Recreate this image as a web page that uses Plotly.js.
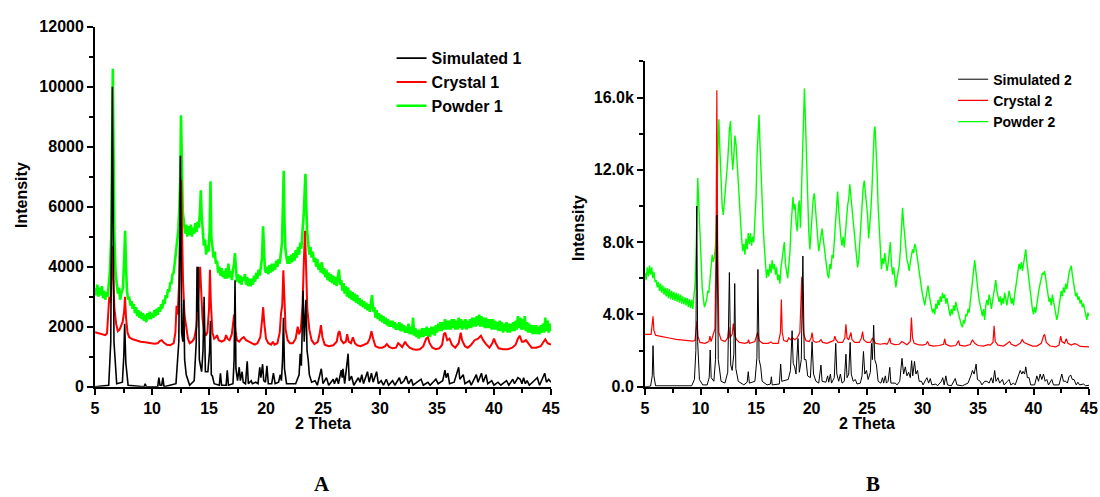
<!DOCTYPE html>
<html><head><meta charset="utf-8">
<script src="https://cdn.plot.ly/plotly-3.0.1.min.js"></script>
<style>html,body{margin:0;padding:0;background:#fff}</style>
</head><body><div id="chart" style="width:1100px;height:497px"></div>
<script>
// ---- Panel A data: [2theta, intensity] pairs ----
const simulated1 = [[5.0,0],[6.2,50],[6.38,1500],[6.52,10000],[6.66,1500],[6.9,100],[7.4,150],[7.52,1000],[7.6,2100],[7.7,800],[7.9,50],[9.3,0],[9.4,100],[9.5,0],[10.5,0],[10.6,300],[10.7,50],[10.85,50],[10.95,300],[11.05,0],[12.1,100],[12.35,1500],[12.49,7700],[12.6,1800],[12.7,1500],[12.78,2900],[12.86,900],[13.0,400],[13.3,50],[13.7,200],[13.88,1500],[13.95,4000],[14.0,2500],[14.05,4000],[14.15,900],[14.35,500],[14.47,1200],[14.57,3000],[14.68,500],[14.9,500],[15.05,1200],[15.12,2200],[15.2,400],[15.3,350],[15.45,100],[15.9,50],[16.0,450],[16.1,50],[16.5,50],[16.6,550],[16.7,50],[17.1,100],[17.2,900],[17.28,3550],[17.36,600],[17.5,200],[17.65,650],[17.75,200],[17.9,500],[18.0,150],[18.2,100],[18.35,850],[18.45,100],[18.7,200],[18.8,100],[19.1,150],[19.3,100],[19.45,650],[19.55,300],[19.7,750],[19.8,200],[19.95,150],[20.08,700],[20.2,100],[20.5,100],[20.65,450],[20.8,100],[21.1,150],[21.25,400],[21.35,200],[21.45,900],[21.53,2300],[21.62,600],[21.8,100],[22.6,100],[22.9,400],[23.0,1100],[23.1,700],[23.25,3200],[23.35,1500],[23.5,2900],[23.6,1200],[23.7,900],[23.8,400],[24.0,150],[24.3,200],[24.5,50],[24.85,600],[25.0,100],[25.3,300],[25.5,50],[25.9,250],[26.0,100],[26.2,300],[26.35,100],[26.6,550],[26.68,300],[26.75,600],[26.9,100],[27.2,1100],[27.3,200],[27.5,350],[27.7,50],[28.1,300],[28.25,150],[28.4,400],[28.55,100],[28.9,500],[29.05,150],[29.25,450],[29.4,150],[29.7,500],[29.85,100],[30.1,200],[30.3,50],[30.55,250],[30.75,50],[31.1,200],[31.3,50],[31.7,300],[31.85,100],[32.1,200],[32.3,350],[32.5,100],[32.75,250],[32.9,50],[33.6,250],[33.8,50],[34.2,150],[34.4,50],[34.9,250],[35.1,100],[35.5,200],[35.7,550],[35.8,300],[35.95,450],[36.1,100],[36.5,150],[36.9,650],[37.0,250],[37.3,400],[37.45,100],[37.85,200],[38.0,50],[38.45,400],[38.6,150],[38.9,450],[39.05,150],[39.3,400],[39.45,100],[39.8,200],[40.0,50],[40.35,150],[40.6,50],[41.1,200],[41.3,50],[41.65,250],[41.8,100],[42.1,300],[42.3,250],[42.45,100],[42.6,300],[42.75,100],[42.9,200],[43.1,50],[43.8,300],[44.0,50],[44.45,450],[44.6,150],[44.8,250],[45.0,150]];

const crystal1 = [[5.0,1820],[5.3,1780],[5.6,1760],[5.9,1720],[6.05,1780],[6.15,2400],[6.25,3000],[6.35,2800],[6.45,3800],[6.52,4700],[6.6,3600],[6.7,2600],[6.85,2100],[7.0,1850],[7.15,1900],[7.3,2050],[7.42,2150],[7.55,2500],[7.63,3000],[7.72,2300],[7.85,1800],[8.0,1650],[8.3,1580],[8.6,1550],[9.0,1500],[9.4,1480],[9.8,1450],[10.2,1430],[10.5,1450],[10.7,1530],[10.85,1550],[11.0,1480],[11.3,1400],[11.6,1380],[11.9,1450],[12.05,1800],[12.15,2700],[12.25,2400],[12.38,3500],[12.5,6000],[12.56,6900],[12.62,5500],[12.72,3500],[12.85,2400],[13.0,1900],[13.15,1600],[13.3,1450],[13.5,1500],[13.7,1600],[13.9,2000],[14.05,2900],[14.15,3900],[14.22,4000],[14.3,3300],[14.42,2300],[14.55,1900],[14.7,1700],[14.85,1800],[15.0,2600],[15.08,3900],[15.16,2800],[15.3,1800],[15.45,1600],[15.6,1650],[15.7,1720],[15.85,1550],[16.1,1500],[16.35,1550],[16.5,1720],[16.62,1600],[16.8,1550],[17.0,1750],[17.12,2200],[17.2,2400],[17.3,1900],[17.45,1550],[17.65,1500],[17.85,1600],[18.05,1650],[18.25,1550],[18.5,1500],[18.75,1450],[19.0,1400],[19.25,1450],[19.5,1650],[19.65,2200],[19.75,2650],[19.85,2100],[20.0,1600],[20.2,1450],[20.45,1400],[20.6,1500],[20.75,1400],[21.0,1450],[21.2,1800],[21.32,2450],[21.42,2700],[21.52,3880],[21.6,2900],[21.72,1900],[21.9,1550],[22.1,1450],[22.35,1450],[22.6,1600],[22.78,2000],[22.9,1750],[23.05,1900],[23.2,2700],[23.32,4200],[23.42,5200],[23.5,4200],[23.62,2600],[23.8,1900],[24.0,1550],[24.25,1420],[24.55,1500],[24.72,1800],[24.82,2050],[24.95,1650],[25.15,1400],[25.5,1350],[25.9,1380],[26.2,1500],[26.35,1800],[26.45,1850],[26.6,1550],[26.8,1450],[27.0,1500],[27.12,1750],[27.25,1500],[27.45,1450],[27.62,1650],[27.8,1450],[28.0,1380],[28.3,1350],[28.6,1400],[28.9,1450],[29.1,1600],[29.25,1850],[29.4,1600],[29.6,1350],[29.9,1300],[30.2,1300],[30.45,1350],[30.6,1420],[30.8,1330],[31.1,1280],[31.4,1300],[31.6,1450],[31.75,1400],[31.95,1320],[32.2,1500],[32.35,1400],[32.6,1300],[32.9,1250],[33.2,1230],[33.5,1250],[33.8,1350],[34.05,1600],[34.2,1650],[34.35,1450],[34.6,1300],[34.9,1250],[35.2,1280],[35.45,1400],[35.6,1750],[35.72,1800],[35.9,1550],[36.1,1600],[36.3,1400],[36.6,1300],[36.9,1450],[37.08,1800],[37.2,1550],[37.45,1350],[37.7,1300],[38.0,1400],[38.3,1550],[38.6,1600],[38.85,1700],[39.05,1550],[39.3,1420],[39.6,1300],[39.85,1450],[40.0,1600],[40.15,1450],[40.4,1280],[40.8,1250],[41.2,1250],[41.6,1300],[41.9,1400],[42.1,1600],[42.25,1700],[42.45,1500],[42.6,1500],[42.8,1550],[43.0,1450],[43.3,1300],[43.7,1300],[44.1,1350],[44.35,1500],[44.5,1580],[44.7,1450],[45.0,1400]];

const powder1 = [[5.0,3300],[5.1,3050],[5.2,3400],[5.3,3000],[5.4,3300],[5.5,3050],[5.6,3350],[5.7,2950],[5.8,3200],[5.9,2900],[6.0,3150],[6.1,3000],[6.2,3400],[6.3,3800],[6.42,5000],[6.5,9000],[6.56,10600],[6.62,8000],[6.7,5000],[6.8,3800],[6.9,3300],[7.0,3100],[7.1,3300],[7.2,2900],[7.3,3100],[7.45,3300],[7.55,4200],[7.64,5200],[7.72,4000],[7.8,3200],[7.9,2900],[8.0,3000],[8.1,2700],[8.2,2850],[8.3,2600],[8.4,2750],[8.5,2450],[8.6,2650],[8.7,2350],[8.8,2550],[8.9,2300],[9.0,2500],[9.1,2250],[9.2,2450],[9.3,2200],[9.4,2400],[9.5,2150],[9.6,2450],[9.7,2250],[9.8,2500],[9.9,2250],[10.0,2450],[10.1,2300],[10.2,2550],[10.3,2350],[10.4,2600],[10.5,2400],[10.6,2650],[10.7,2500],[10.8,2750],[10.9,2600],[11.0,2900],[11.1,2750],[11.2,3050],[11.3,2950],[11.4,3250],[11.5,3150],[11.6,3450],[11.7,3450],[11.8,3750],[11.9,3800],[12.0,4150],[12.1,4300],[12.2,4700],[12.3,5200],[12.4,6000],[12.48,7000],[12.54,9050],[12.6,7000],[12.7,5800],[12.8,5500],[12.9,5100],[13.0,5400],[13.1,5000],[13.2,5350],[13.3,5050],[13.4,5400],[13.5,5000],[13.6,5300],[13.7,5100],[13.8,5450],[13.9,5150],[14.0,5500],[14.1,5300],[14.2,5800],[14.28,6550],[14.36,5700],[14.45,5300],[14.55,4700],[14.65,4900],[14.75,4400],[14.85,4700],[14.95,4500],[15.05,5200],[15.13,6850],[15.2,5000],[15.3,4500],[15.4,4300],[15.5,4500],[15.6,4100],[15.7,4200],[15.8,3800],[15.9,4000],[16.0,3700],[16.1,3950],[16.2,3650],[16.3,3850],[16.4,3600],[16.5,3950],[16.6,3600],[16.7,4100],[16.8,3650],[16.9,3850],[17.0,3550],[17.1,3900],[17.2,4100],[17.27,4450],[17.35,3900],[17.45,3500],[17.55,3750],[17.65,3450],[17.75,3700],[17.85,3400],[17.95,3650],[18.05,3550],[18.15,3750],[18.25,3400],[18.35,3650],[18.45,3350],[18.55,3600],[18.65,3350],[18.75,3600],[18.85,3400],[18.95,3700],[19.05,3500],[19.15,3800],[19.25,3600],[19.35,3900],[19.45,3700],[19.55,4000],[19.65,4300],[19.74,5350],[19.82,4300],[19.9,3900],[20.0,3800],[20.1,4000],[20.2,3750],[20.3,4050],[20.4,3800],[20.5,4100],[20.6,3850],[20.7,4100],[20.8,3900],[20.9,4200],[21.0,4000],[21.1,4250],[21.2,4100],[21.3,4400],[21.4,4800],[21.48,6000],[21.55,7200],[21.62,5500],[21.7,4600],[21.8,4300],[21.9,4100],[22.0,4350],[22.1,4100],[22.2,4400],[22.3,4150],[22.4,4450],[22.5,4200],[22.6,4550],[22.7,4300],[22.8,4650],[22.9,4400],[23.0,4800],[23.1,4600],[23.2,5200],[23.3,5700],[23.4,6600],[23.46,7100],[23.52,6200],[23.6,5200],[23.7,4800],[23.8,4400],[23.9,4650],[24.0,4300],[24.1,4500],[24.2,4150],[24.3,4300],[24.4,4000],[24.5,4250],[24.6,3900],[24.7,4100],[24.8,3800],[24.9,4150],[25.0,3750],[25.1,3950],[25.2,3650],[25.3,3900],[25.4,3550],[25.5,3800],[25.6,3500],[25.7,3750],[25.8,3450],[25.9,3700],[26.0,3400],[26.1,3650],[26.2,3350],[26.3,3650],[26.4,3900],[26.5,3400],[26.6,3550],[26.7,3200],[26.8,3450],[26.9,3100],[27.0,3350],[27.1,3000],[27.2,3300],[27.3,2950],[27.4,3200],[27.5,2900],[27.6,3150],[27.7,2850],[27.8,3100],[27.9,2800],[28.0,3050],[28.1,2750],[28.2,2950],[28.3,2700],[28.4,2900],[28.5,2650],[28.6,2850],[28.7,2600],[28.8,2800],[28.9,2550],[29.0,2750],[29.1,2500],[29.2,2800],[29.3,3050],[29.4,2500],[29.5,2650],[29.6,2300],[29.7,2550],[29.8,2250],[29.9,2450],[30.0,2200],[30.1,2400],[30.2,2150],[30.3,2350],[30.4,2100],[30.5,2300],[30.6,2050],[30.7,2250],[30.8,2000],[30.9,2200],[31.0,2000],[31.1,2200],[31.2,1950],[31.3,2150],[31.4,1900],[31.5,2100],[31.6,1900],[31.7,2150],[31.8,1850],[31.9,2100],[32.0,1850],[32.1,2050],[32.2,1800],[32.3,2000],[32.4,1800],[32.5,2100],[32.6,1750],[32.7,2000],[32.8,1750],[32.9,2300],[33.0,1700],[33.1,1950],[33.2,1650],[33.3,1900],[33.4,1600],[33.5,1900],[33.6,1650],[33.7,1950],[33.8,1650],[33.9,1950],[34.0,1700],[34.1,2000],[34.2,1700],[34.3,1950],[34.4,1650],[34.5,2000],[34.6,1750],[34.7,2000],[34.8,1700],[34.9,2050],[35.0,1800],[35.1,2100],[35.2,1850],[35.3,2150],[35.4,1850],[35.5,2150],[35.6,1900],[35.7,2250],[35.8,1900],[35.9,2200],[36.0,1900],[36.1,2200],[36.2,1900],[36.3,2250],[36.4,1950],[36.5,2250],[36.6,1900],[36.7,2200],[36.8,1900],[36.9,2300],[37.0,1950],[37.1,2250],[37.2,1900],[37.3,2200],[37.4,1950],[37.5,2250],[37.6,1900],[37.7,2200],[37.8,1950],[37.9,2250],[38.0,1950],[38.1,2300],[38.2,2000],[38.3,2300],[38.4,2000],[38.5,2350],[38.6,2050],[38.7,2400],[38.8,2000],[38.9,2350],[39.0,2000],[39.1,2300],[39.2,1950],[39.3,2300],[39.4,1950],[39.5,2250],[39.6,1950],[39.7,2250],[39.8,1900],[39.9,2250],[40.0,1900],[40.1,2200],[40.2,1900],[40.3,2150],[40.4,1850],[40.5,2200],[40.6,1850],[40.7,2150],[40.8,1800],[40.9,2100],[41.0,1850],[41.1,2150],[41.2,1800],[41.3,2100],[41.4,1800],[41.5,2100],[41.6,1850],[41.7,2150],[41.8,1850],[41.9,2200],[42.0,1900],[42.1,2350],[42.2,1950],[42.3,2300],[42.4,1900],[42.5,2250],[42.6,1900],[42.7,2350],[42.8,1850],[42.9,2150],[43.0,1800],[43.1,2100],[43.2,1800],[43.3,2050],[43.4,1750],[43.5,2050],[43.6,1750],[43.7,2050],[43.8,1750],[43.9,2000],[44.0,1750],[44.1,2050],[44.2,1800],[44.3,2100],[44.4,1800],[44.5,2300],[44.6,1850],[44.7,2200],[44.8,1800],[44.9,2100],[45.0,1850]];

// ---- Panel B data ----
const simulated2 = [[5.0,0],[5.5,30],[5.65,600],[5.72,2270],[5.8,600],[5.95,50],[9.2,50],[9.45,400],[9.58,2000],[9.66,10000],[9.74,2500],[9.9,400],[10.2,100],[10.6,100],[10.78,500],[10.87,2030],[10.96,500],[11.2,300],[11.35,1500],[11.48,9500],[11.6,1500],[11.85,300],[12.2,200],[12.45,800],[12.6,6320],[12.72,1200],[12.85,900],[13.0,1800],[13.08,5710],[13.18,1000],[13.4,300],[13.9,100],[14.2,250],[14.3,830],[14.4,200],[14.9,300],[15.08,1600],[15.17,6490],[15.28,1500],[15.42,1100],[15.55,300],[16.0,100],[16.3,150],[16.38,550],[16.46,100],[17.1,150],[17.22,1250],[17.32,300],[17.9,400],[18.1,900],[18.25,3100],[18.35,1300],[18.48,1100],[18.6,700],[18.78,2670],[18.9,800],[19.08,1500],[19.22,7230],[19.35,1500],[19.5,1500],[19.65,600],[19.9,500],[20.05,2490],[20.18,700],[20.4,300],[20.65,200],[20.85,1200],[20.95,300],[21.3,250],[21.45,600],[21.55,250],[21.7,700],[21.8,200],[22.05,500],[22.18,2400],[22.28,700],[22.45,300],[22.6,700],[22.75,200],[22.95,300],[23.1,1800],[23.2,500],[23.35,700],[23.48,2450],[23.58,700],[23.75,300],[23.95,400],[24.1,150],[24.4,200],[24.55,600],[24.68,1950],[24.8,700],[24.95,900],[25.1,400],[25.3,800],[25.4,2400],[25.48,1500],[25.6,3400],[25.7,1500],[25.85,1200],[26.0,300],[26.25,200],[26.4,500],[26.5,200],[26.65,600],[26.75,200],[26.9,300],[27.05,1070],[27.15,200],[27.55,200],[27.7,100],[27.95,300],[28.15,1570],[28.3,700],[28.45,1100],[28.6,600],[28.75,800],[28.9,500],[29.02,1440],[29.12,600],[29.28,1400],[29.4,700],[29.55,900],[29.7,300],[29.9,300],[30.05,100],[30.3,400],[30.4,500],[30.55,200],[30.7,450],[30.85,100],[31.2,150],[31.35,50],[31.7,300],[31.82,500],[31.95,100],[32.1,600],[32.25,100],[32.6,50],[32.95,450],[33.1,100],[33.6,50],[33.75,100],[34.1,200],[34.35,600],[34.5,900],[34.65,700],[34.83,1250],[34.95,400],[35.2,300],[35.35,100],[35.6,300],[35.8,300],[36.0,200],[36.2,500],[36.35,200],[36.5,900],[36.62,300],[36.8,500],[36.95,200],[37.2,400],[37.35,100],[37.65,300],[37.8,400],[37.95,100],[38.2,200],[38.35,100],[38.6,500],[38.8,900],[38.95,700],[39.05,850],[39.2,700],[39.3,1100],[39.45,500],[39.6,500],[39.75,100],[40.1,100],[40.3,600],[40.45,300],[40.6,700],[40.75,400],[40.9,700],[41.05,300],[41.2,400],[41.35,100],[41.65,400],[41.8,100],[42.3,100],[42.55,700],[42.7,300],[42.9,300],[43.05,200],[43.2,550],[43.35,650],[43.5,400],[43.65,400],[43.85,100],[44.0,250],[44.15,100],[44.5,150],[44.7,50],[45.0,80]];

const crystal2 = [[5.0,2900],[5.3,2880],[5.55,2900],[5.65,3500],[5.72,3900],[5.8,3100],[5.95,2850],[6.3,2800],[6.8,2720],[7.3,2680],[7.8,2620],[8.3,2580],[8.8,2550],[9.3,2520],[9.5,2550],[9.6,3000],[9.68,3650],[9.76,2800],[9.95,2450],[10.4,2400],[10.75,2500],[10.85,2800],[10.95,2500],[11.15,2900],[11.3,3200],[11.4,8000],[11.47,16400],[11.54,8000],[11.65,3000],[11.85,2600],[12.2,2500],[12.45,2700],[12.55,3300],[12.65,2700],[12.85,2900],[12.95,3500],[13.1,2800],[13.25,2600],[13.5,2450],[14.0,2400],[14.25,2450],[14.32,2600],[14.42,2400],[14.9,2500],[15.05,2900],[15.15,3000],[15.3,2550],[15.6,2400],[16.1,2400],[16.35,2480],[16.5,2400],[17.0,2400],[17.2,3000],[17.28,4830],[17.36,3000],[17.5,2550],[17.8,2500],[17.95,2700],[18.1,2600],[18.3,2700],[18.5,2600],[18.7,2700],[18.95,3000],[19.05,5000],[19.12,6080],[19.2,4000],[19.3,2900],[19.5,2550],[19.8,2500],[19.97,2700],[20.05,3000],[20.15,2550],[20.4,2450],[20.7,2500],[20.85,2600],[21.0,2450],[21.4,2400],[21.6,2450],[21.8,2500],[22.0,2550],[22.1,2800],[22.2,2600],[22.4,2450],[22.8,2450],[23.0,2700],[23.1,3450],[23.2,2700],[23.35,2600],[23.55,3000],[23.65,2600],[23.9,2450],[24.3,2450],[24.5,2700],[24.6,3050],[24.7,2600],[25.0,2450],[25.3,2450],[25.5,2700],[25.6,2550],[25.8,2400],[26.2,2350],[26.6,2400],[26.8,2350],[26.95,2500],[27.05,2700],[27.15,2400],[27.5,2330],[27.9,2350],[28.15,2500],[28.3,2450],[28.6,2320],[28.9,2500],[29.0,3830],[29.1,2700],[29.25,2400],[29.6,2330],[30.0,2300],[30.3,2350],[30.45,2500],[30.6,2300],[31.0,2250],[31.5,2280],[31.9,2350],[32.0,2650],[32.1,2350],[32.5,2250],[33.0,2280],[33.25,2550],[33.35,2300],[33.8,2250],[34.3,2330],[34.5,2600],[34.7,2400],[35.0,2280],[35.5,2250],[35.9,2330],[36.1,2300],[36.35,2450],[36.45,3370],[36.55,2500],[36.8,2300],[37.3,2250],[37.7,2400],[37.85,2500],[38.0,2350],[38.4,2250],[38.8,2400],[38.98,2600],[39.15,2450],[39.5,2350],[39.9,2250],[40.3,2250],[40.7,2400],[40.9,2800],[41.0,2900],[41.15,2450],[41.5,2250],[42.0,2200],[42.3,2300],[42.45,2800],[42.55,2500],[42.8,2400],[42.95,2650],[43.1,2400],[43.4,2300],[43.7,2380],[43.9,2350],[44.2,2230],[44.6,2200],[45.0,2200]];

const powder2 = [[5.0,6300],[5.1,5900],[5.2,6600],[5.3,6100],[5.4,6700],[5.5,6200],[5.6,6600],[5.7,6000],[5.8,6350],[5.9,5800],[6.0,5900],[6.1,5500],[6.2,5800],[6.3,5300],[6.4,5700],[6.5,5200],[6.6,5600],[6.7,5100],[6.8,5500],[6.9,5000],[7.0,5450],[7.1,4900],[7.2,5400],[7.3,4850],[7.4,5300],[7.5,4800],[7.6,5250],[7.7,4750],[7.8,5200],[7.9,4700],[8.0,5150],[8.1,4650],[8.2,5100],[8.3,4600],[8.4,5000],[8.5,4550],[8.6,4950],[8.7,4500],[8.8,4900],[8.9,4400],[9.0,4850],[9.1,4350],[9.2,4800],[9.3,4300],[9.4,5000],[9.5,5600],[9.6,7500],[9.68,10000],[9.75,11550],[9.85,10000],[9.95,8200],[10.05,6500],[10.15,5500],[10.25,4900],[10.35,4400],[10.45,4600],[10.55,4800],[10.65,5300],[10.75,5200],[10.85,5900],[10.95,6500],[11.05,7300],[11.15,6900],[11.25,7200],[11.35,7800],[11.45,9500],[11.55,12500],[11.65,14800],[11.75,13000],[11.85,11000],[11.95,10000],[12.05,9500],[12.15,10200],[12.3,11000],[12.45,12500],[12.6,14200],[12.7,14700],[12.8,13000],[12.9,12000],[13.0,12800],[13.1,13900],[13.2,13400],[13.3,12200],[13.4,11000],[13.5,9800],[13.6,8800],[13.7,8200],[13.8,7500],[13.9,7900],[14.0,7300],[14.1,8200],[14.2,7600],[14.3,8500],[14.4,7900],[14.5,8500],[14.6,7800],[14.7,8300],[14.8,8000],[14.9,9000],[15.0,10500],[15.1,13000],[15.2,14600],[15.27,15050],[15.35,13500],[15.45,11500],[15.55,10000],[15.65,8800],[15.75,7700],[15.85,6800],[15.95,6000],[16.05,6500],[16.15,6100],[16.25,6800],[16.35,6300],[16.45,7000],[16.55,6500],[16.65,6800],[16.75,6200],[16.85,6600],[16.95,5900],[17.05,6200],[17.15,5700],[17.25,6600],[17.35,7200],[17.45,7700],[17.55,8000],[17.65,6800],[17.75,6300],[17.85,6000],[17.95,6700],[18.05,7400],[18.15,8800],[18.25,10200],[18.33,10500],[18.42,9800],[18.52,10100],[18.62,9000],[18.72,8600],[18.82,10000],[18.9,10300],[19.0,8800],[19.1,11000],[19.2,13500],[19.3,15500],[19.36,16500],[19.44,15000],[19.55,12500],[19.65,10500],[19.75,8600],[19.85,7600],[19.95,8500],[20.05,9800],[20.15,10400],[20.25,10700],[20.35,9800],[20.45,8800],[20.55,8000],[20.65,7500],[20.75,7900],[20.85,8300],[20.95,8750],[21.05,8200],[21.15,7600],[21.25,7200],[21.35,6800],[21.45,6200],[21.55,6000],[21.65,6800],[21.75,6500],[21.85,7300],[21.95,7100],[22.05,8000],[22.15,9300],[22.25,10400],[22.35,10800],[22.45,9800],[22.55,8700],[22.65,8200],[22.75,7800],[22.85,8300],[22.95,7700],[23.05,8600],[23.15,9200],[23.25,10000],[23.35,10400],[23.45,11200],[23.55,10500],[23.65,9800],[23.75,9300],[23.85,8600],[23.95,7800],[24.05,7200],[24.15,6600],[24.25,7000],[24.35,8000],[24.45,9300],[24.55,10300],[24.65,11000],[24.75,11400],[24.85,10800],[24.95,10200],[25.05,9500],[25.15,8200],[25.25,8800],[25.35,9800],[25.45,11000],[25.55,13000],[25.65,14200],[25.72,14400],[25.8,13500],[25.9,12000],[26.0,10000],[26.1,8500],[26.2,7200],[26.3,6500],[26.4,7100],[26.5,6800],[26.6,7400],[26.7,6900],[26.8,6400],[26.9,6800],[27.0,7300],[27.1,8000],[27.2,6800],[27.3,6200],[27.4,6600],[27.5,5800],[27.6,5500],[27.7,6000],[27.8,6300],[27.9,6700],[28.0,7500],[28.1,8500],[28.2,9900],[28.3,9000],[28.4,8200],[28.5,7500],[28.6,7000],[28.7,6800],[28.8,6400],[28.9,6900],[29.0,7200],[29.1,7600],[29.2,7400],[29.3,7900],[29.4,7700],[29.5,7200],[29.6,6700],[29.7,6300],[29.8,5800],[29.9,5500],[30.0,5100],[30.1,4800],[30.2,4500],[30.3,4900],[30.4,5400],[30.5,5600],[30.6,5100],[30.7,4700],[30.8,4300],[30.9,4100],[31.0,4300],[31.1,4000],[31.2,4600],[31.3,4300],[31.4,4800],[31.5,4500],[31.6,5000],[31.7,4700],[31.8,5200],[31.9,4900],[32.0,5100],[32.1,4600],[32.2,4900],[32.3,4400],[32.4,4200],[32.5,3900],[32.6,4300],[32.7,4000],[32.8,4500],[32.9,4200],[33.0,4700],[33.1,4400],[33.2,4100],[33.3,3800],[33.4,3600],[33.5,3400],[33.6,3300],[33.7,3700],[33.8,3500],[33.9,4000],[34.0,3900],[34.1,4300],[34.2,4100],[34.3,4600],[34.4,5200],[34.5,5800],[34.6,6400],[34.7,7000],[34.8,6300],[34.9,5700],[35.0,5300],[35.1,4800],[35.2,4500],[35.3,4200],[35.4,3900],[35.5,4300],[35.6,3700],[35.7,4500],[35.8,4800],[35.9,4500],[36.0,5100],[36.1,4800],[36.2,4300],[36.3,4700],[36.4,5200],[36.5,5700],[36.6,5900],[36.7,5300],[36.8,5000],[36.9,4700],[37.0,5000],[37.1,4500],[37.2,4900],[37.3,4600],[37.4,5200],[37.5,4800],[37.6,4500],[37.7,4900],[37.8,5300],[37.9,5000],[38.0,4600],[38.1,4900],[38.2,4500],[38.3,5100],[38.4,5500],[38.5,5900],[38.6,6300],[38.7,6800],[38.8,6500],[38.9,6900],[39.0,6400],[39.1,6800],[39.2,7400],[39.3,7600],[39.4,6900],[39.5,6300],[39.6,5800],[39.7,5300],[39.8,4800],[39.9,4300],[40.0,4000],[40.1,4400],[40.2,4100],[40.3,4700],[40.4,5000],[40.5,5400],[40.6,5700],[40.7,6000],[40.8,6300],[40.9,6200],[41.0,6400],[41.1,6000],[41.2,5600],[41.3,5100],[41.4,4700],[41.5,4900],[41.6,4500],[41.7,5100],[41.8,4700],[41.9,4300],[42.0,4000],[42.1,3700],[42.2,4000],[42.3,4400],[42.4,4900],[42.5,5300],[42.6,5000],[42.7,5500],[42.8,5200],[42.9,5700],[43.0,5400],[43.1,6000],[43.2,6300],[43.3,6500],[43.4,6700],[43.5,6200],[43.6,5700],[43.7,5400],[43.8,5000],[43.9,5200],[44.0,4800],[44.1,5000],[44.2,4600],[44.3,4800],[44.4,4400],[44.5,4600],[44.6,4200],[44.7,4000],[44.8,3700],[44.9,4100],[45.0,3900]];

const namesA = ['Simulated 1','Crystal 1','Powder 1'];
const namesB = ['Simulated 2','Crystal 2','Powder 2'];
const xTicks = [5,10,15,20,25,30,35,40,45];
const yTicksA = [0,2000,4000,6000,8000,10000,12000];
const yTickTextA = ['0','2000','4000','6000','8000','10000','12000'];
const yTicksB = [0,4000,8000,12000,16000];
const yTickTextB = ['0.0','4.0k','8.0k','12.0k','16.0k'];

const colors = ['#000000','#ff0000','#00ff00'];
const FONT = 'Liberation Sans, Arial, sans-serif';

function tr(pairs, name, color, width, xa, ya, leg){
  return {x: pairs.map(p=>p[0]), y: pairs.map(p=>p[1]), type:'scatter', mode:'lines',
    name: name, xaxis: xa, yaxis: ya, legend: leg,
    line:{color: color, width: width}};
}

// drawn bottom-to-top: powder, crystal, simulated (legend shown reversed)
const data = [
  tr(powder1,    namesA[2], colors[2], 2.6, 'x','y','legend'),
  tr(crystal1,   namesA[1], colors[1], 2,   'x','y','legend'),
  tr(simulated1, namesA[0], colors[0], 1.6, 'x','y','legend'),
  tr(powder2,    namesB[2], colors[2], 1.4, 'x2','y2','legend2'),
  tr(crystal2,   namesB[1], colors[1], 1.2, 'x2','y2','legend2'),
  tr(simulated2, namesB[0], colors[0], 1,   'x2','y2','legend2')
];

const tickFont = {family: FONT, size: 16, color:'#000', weight:'bold'};
const minorX = {ticks:'outside', ticklen:4, tickwidth:2, tickcolor:'#000', dtick:2.5, tick0:5, showgrid:false};
function xax(domain, anchor){
  return {domain: domain, anchor: anchor, range:[5,45], tickvals: xTicks,
    showline:true, linecolor:'#000', linewidth:2, mirror:false,
    ticks:'outside', ticklen:6, tickwidth:2, tickcolor:'#000', minor: minorX,
    showgrid:false, zeroline:false, tickfont: tickFont, fixedrange:true};
}
const layout = {
  width:1100, height:497, margin:{l:0,r:0,t:0,b:0},
  paper_bgcolor:'#fff', plot_bgcolor:'#fff', showlegend:true,
  xaxis: xax([0.0864,0.5009],'y'),
  yaxis: {domain:[0.2219,0.9463], anchor:'x', range:[0,12000], tickvals: yTicksA, ticktext: yTickTextA,
    showline:true, linecolor:'#000', linewidth:2, ticks:'outside', ticklen:6, tickwidth:2, tickcolor:'#000',
    minor:{ticks:'outside', ticklen:4, tickwidth:2, tickcolor:'#000', dtick:1000, tick0:0, showgrid:false},
    showgrid:false, zeroline:false, tickfont: tickFont, fixedrange:true},
  xaxis2: xax([0.5864,0.99],'y2'),
  yaxis2: {domain:[0.2219,0.8765], anchor:'x2', range:[0,18000], tickvals: yTicksB, ticktext: yTickTextB,
    showline:true, linecolor:'#000', linewidth:2, ticks:'outside', ticklen:6, tickwidth:2, tickcolor:'#000',
    minor:{ticks:'outside', ticklen:4, tickwidth:2, tickcolor:'#000', dtick:2000, tick0:0, showgrid:false},
    showgrid:false, zeroline:false, tickfont: tickFont, fixedrange:true},
  legend: {x:0.356, y:0.917, xanchor:'left', yanchor:'top', bgcolor:'rgba(0,0,0,0)', traceorder:'reversed',
    font:{family:FONT, size:16, color:'#000', weight:'bold'}, tracegroupgap:0, itemwidth:30},
  legend2: {x:0.8665, y:0.872, xanchor:'left', yanchor:'top', bgcolor:'rgba(0,0,0,0)', traceorder:'reversed',
    font:{family:FONT, size:14, color:'#000', weight:'bold'}, tracegroupgap:0, itemwidth:30},
  annotations: [
    {text:'Intensity', xref:'paper', yref:'paper', x:21/1100, y:1-195/497, xanchor:'center', yanchor:'middle',
      textangle:-90, showarrow:false, font:{family:FONT, size:16, color:'#000', weight:'bold'}},
    {text:'Intensity', xref:'paper', yref:'paper', x:578/1100, y:1-228/497, xanchor:'center', yanchor:'middle',
      textangle:-90, showarrow:false, font:{family:FONT, size:16, color:'#000', weight:'bold'}},
    {text:'2 Theta', xref:'paper', yref:'paper', x:323/1100, y:1-423/497, xanchor:'center', yanchor:'middle',
      showarrow:false, font:{family:FONT, size:16, color:'#000', weight:'bold'}},
    {text:'2 Theta', xref:'paper', yref:'paper', x:867/1100, y:1-423/497, xanchor:'center', yanchor:'middle',
      showarrow:false, font:{family:FONT, size:16, color:'#000', weight:'bold'}},
    {text:'A', xref:'paper', yref:'paper', x:322/1100, y:1-484/497, xanchor:'center', yanchor:'middle', showarrow:false,
      font:{family:'Liberation Serif, Times New Roman, serif', size:21, color:'#000', weight:'bold'}},
    {text:'B', xref:'paper', yref:'paper', x:873/1100, y:1-484/497, xanchor:'center', yanchor:'middle', showarrow:false,
      font:{family:'Liberation Serif, Times New Roman, serif', size:21, color:'#000', weight:'bold'}}
  ]
};
Plotly.newPlot('chart', data, layout, {displayModeBar:false, staticPlot:true});
</script>
</body></html>
